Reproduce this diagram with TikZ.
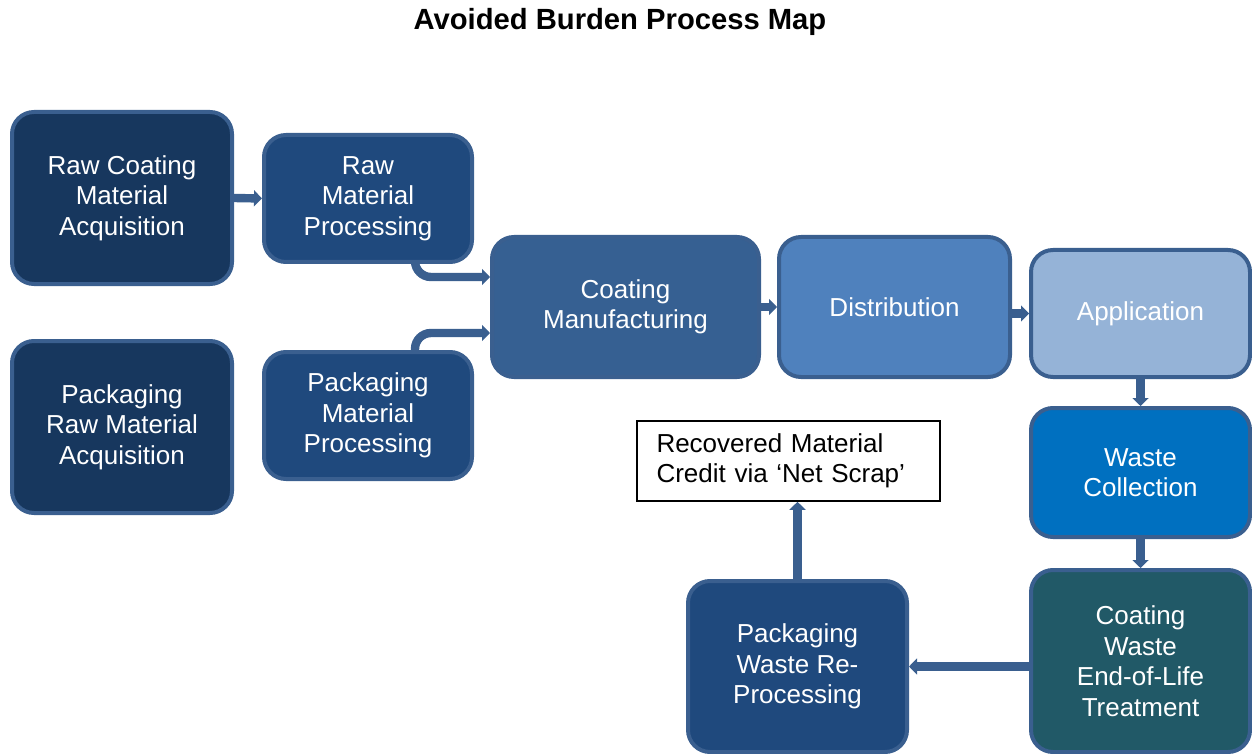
\documentclass[tikz,border=0pt]{standalone}
\usepackage{fontspec}
\setmainfont{Liberation Sans}
\usetikzlibrary{arrows.meta,calc}
\definecolor{navyA}{HTML}{17375E}
\definecolor{navyB}{HTML}{1F497D}
\definecolor{coatman}{HTML}{366092}
\definecolor{distc}{HTML}{4F81BD}
\definecolor{appc}{HTML}{95B3D7}
\definecolor{wastec}{HTML}{0070C0}
\definecolor{eolc}{HTML}{215967}
\definecolor{edgec}{HTML}{3A5F8F}
\tikzset{
  procbox/.style={draw=edgec, line width=2pt, rounded corners=11pt, align=center,
    text=white, font=\fontsize{13}{15.25}\selectfont, inner sep=0pt},
  conn/.style={draw=edgec, line width=4.2pt, rounded corners=8pt,
    -{Triangle[length=4pt,width=8pt]}},
  notebox/.style={draw=black, line width=0.8pt, fill=white, align=left,
    font=\fontsize{13}{15.25}\selectfont, inner sep=0pt, text width=140pt}
}
\begin{document}
\begin{tikzpicture}[x=0.5pt,y=-0.5pt]
\useasboundingbox (0,0) rectangle (1252,754);
\node[font=\bfseries\fontsize{14.6}{17}\selectfont] (title) at (620,22) {Avoided Burden Process Map};

\node[procbox, fill=navyA, minimum width=110pt, minimum height=86pt] (n1) at (122,198) {Raw Coating\\Material\\Acquisition};
\node[procbox, fill=navyB, minimum width=104pt, minimum height=63.5pt] (n2) at (368,198.5) {Raw\\Material\\Processing};
\node[procbox, fill=navyA, minimum width=110pt, minimum height=86pt] (n3) at (122,427) {Packaging\\Raw Material\\Acquisition};
\node[procbox, fill=navyB, minimum width=104pt, minimum height=63.5pt] (n4) at (368,415.5) {Packaging\\Material\\Processing};
\node[procbox, fill=coatman, minimum width=133.5pt, minimum height=70pt] (n5) at (625.5,307) {Coating\\Manufacturing};
\node[procbox, fill=distc, minimum width=115.5pt, minimum height=70pt] (n6) at (894.5,307) {Distribution};
\node[procbox, fill=appc, minimum width=109.5pt, minimum height=63.5pt] (n7) at (1140.5,313.5) {Application};
\node[procbox, fill=wastec, minimum width=109.5pt, minimum height=64.5pt] (n8) at (1140.5,472.5) {Waste\\Collection};
\node[procbox, fill=eolc, minimum width=109.5pt, minimum height=91pt] (n9) at (1140.5,661) {Coating\\Waste\\End-of-Life\\Treatment};
\node[procbox, fill=navyB, minimum width=109.5pt, minimum height=85.5pt] (n10) at (797.5,666.5) {Packaging\\Waste Re-\\Processing};
\node[notebox, minimum width=151.5pt, minimum height=40pt] (n11) at (788.5,461) {\hspace*{4pt}Recovered Material\\\hspace*{4pt}Credit via ‘Net Scrap’};

\draw[conn] (n1.east) -- (n2.west);
\draw[conn] ($(n2.south)+(47,0)$) |- ($(n5.west)+(0,-30)$);
\draw[conn] ($(n4.north)+(47,0)$) |- ($(n5.west)+(0,26)$);
\draw[conn] (n5.east) -- (n6.west);
\draw[conn] (n6.east |- n7.west) -- (n7.west);
\draw[conn] (n7.south) -- (n8.north);
\draw[conn] (n8.south) -- (n9.north);
\draw[conn] (n9.west |- n10.east) -- (n10.east);
\draw[conn] (n10.north) -- (n10.north |- n11.south);
\end{tikzpicture}
\end{document}
